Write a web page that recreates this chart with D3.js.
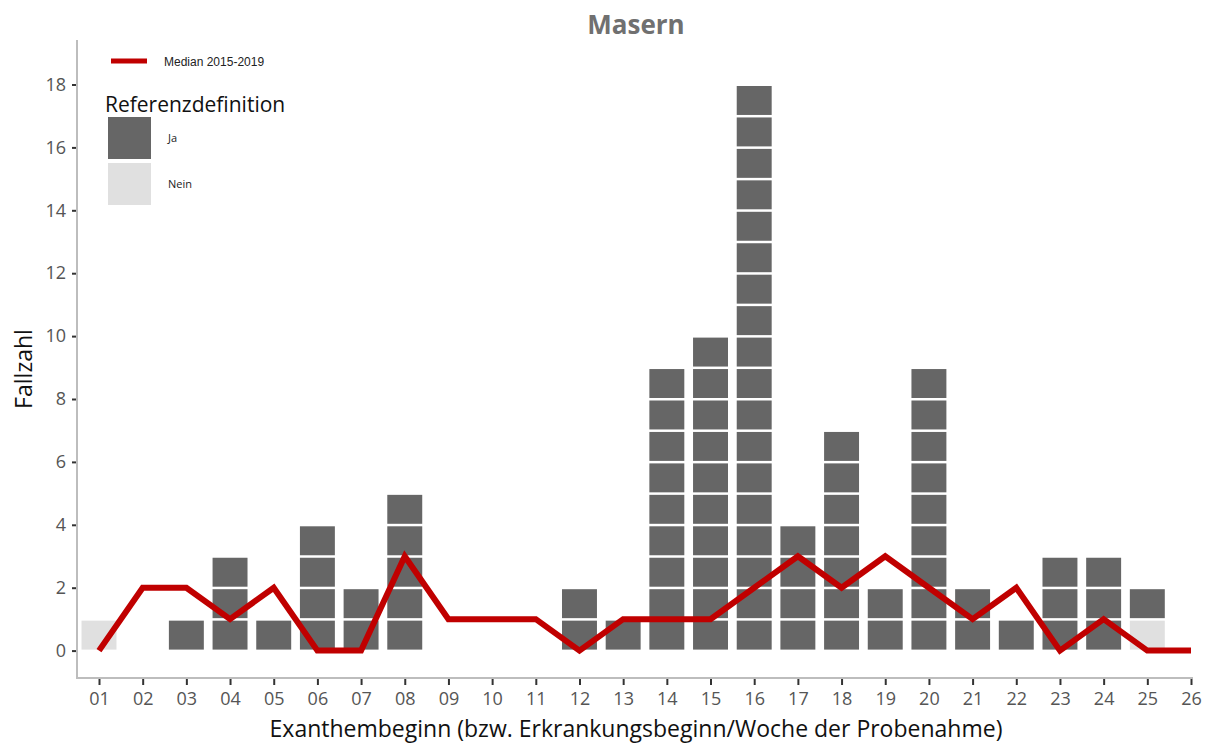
<!DOCTYPE html>
<html><head><meta charset="utf-8">
<script src="https://cdn.jsdelivr.net/npm/d3@7"></script>
<style>body{margin:0;background:#fff}svg{display:block}</style>
</head><body>
<svg id="c" width="1214" height="743"></svg>
<script>
const weeks = ["01","02","03","04","05","06","07","08","09","10","11","12","13","14","15","16","17","18","19","20","21","22","23","24","25","26"];
const nein = [1,0,0,0,0,0,0,0,0,0,0,0,0,0,0,0,0,0,0,0,0,0,0,0,1,0];
const ja   = [0,0,1,3,1,4,2,5,0,0,0,2,1,9,10,18,4,7,2,9,2,1,3,3,1,0];
const median = [0,2,2,1,2,0,0,3,1,1,1,0,1,1,1,2,3,2,3,2,1,2,0,1,0,0];
const yTicks = [0,2,4,6,8,10,12,14,16,18];

const svg = d3.select("#c");
const x = d3.scalePoint().domain(weeks).range([99,1191]);
const y = d3.scaleLinear().domain([0,18]).range([650.6,84.5]);
const step = x.step();
const bw = step*0.8;

// cells
const cells = [];
weeks.forEach((w,i)=>{
  let k=0;
  for(let j=0;j<nein[i];j++){cells.push({w,k:k++,t:"Nein"});}
  for(let j=0;j<ja[i];j++){cells.push({w,k:k++,t:"Ja"});}
});
const col = {Ja:"#666666", Nein:"#E0E0E0"};
svg.append("g").selectAll("rect").data(cells).join("rect")
  .attr("x",d=>x(d.w)-bw/2).attr("width",bw)
  .attr("y",d=>y(d.k+1)+1.5).attr("height",d=>y(d.k)-y(d.k+1)-2.5)
  .attr("fill",d=>col[d.t]);

// median line
svg.append("path").datum(median.map((v,i)=>[weeks[i],v]))
  .attr("d",d3.line().x(d=>x(d[0])).y(d=>y(d[1])))
  .attr("fill","none").attr("stroke","#C00000").attr("stroke-width",6).attr("stroke-linejoin","miter");

// axes
const font = "'Open Sans', Lato, sans-serif";
const yAx = svg.append("g").attr("transform","translate(77,0)")
  .call(d3.axisLeft(y).tickValues(yTicks).tickSize(5).tickPadding(6));
yAx.select(".domain").remove();
svg.append("line").attr("x1",77).attr("x2",77).attr("y1",40).attr("y2",679).attr("stroke","#BDBDBD").attr("stroke-width",2);
const xAx = svg.append("g").attr("transform","translate(0,678)")
  .call(d3.axisBottom(x).tickSize(7).tickPadding(7));
xAx.select(".domain").remove();
svg.append("line").attr("x1",76).attr("x2",1193).attr("y1",678).attr("y2",678).attr("stroke","#BDBDBD").attr("stroke-width",2);
[yAx,xAx].forEach(a=>{
  a.selectAll(".tick line").attr("stroke","#333").attr("stroke-width",2);
  a.selectAll(".tick text").attr("fill","#555").style("font-family",font).style("font-size","18px");
});

// titles
svg.append("text").attr("x",636).attr("y",34).attr("text-anchor","middle")
  .style("font-family",font).style("font-size","26px").style("font-weight","bold").attr("fill","#707070").text("Masern");
svg.append("text").attr("x",636).attr("y",737).attr("text-anchor","middle")
  .style("font-family",font).style("font-size","23px").attr("fill","#111").text("Exanthembeginn (bzw. Erkrankungsbeginn/Woche der Probenahme)");
svg.append("text").attr("transform","translate(32,369) rotate(-90)").attr("text-anchor","middle")
  .style("font-family",font).style("font-size","23px").attr("fill","#111").text("Fallzahl");

// legend
svg.append("line").attr("x1",111).attr("x2",147).attr("y1",61).attr("y2",61).attr("stroke","#C00000").attr("stroke-width",5);
svg.append("text").attr("x",164).attr("y",65.5).style("font-family","'Liberation Sans', Arial, sans-serif").style("font-size","12px").attr("fill","#222").text("Median 2015-2019");
svg.append("text").attr("x",105).attr("y",112).style("font-family",font).style("font-size","21px").attr("fill","#111").text("Referenzdefinition");
const leg = [{t:"Ja",y:117},{t:"Nein",y:163}];
leg.forEach(l=>{
  svg.append("rect").attr("x",108).attr("y",l.y).attr("width",43).attr("height",42).attr("fill",col[l.t]);
  svg.append("text").attr("x",168).attr("y",l.y+25).style("font-family",font).style("font-size","11px").attr("fill","#222").text(l.t);
});
</script>
</body></html>
